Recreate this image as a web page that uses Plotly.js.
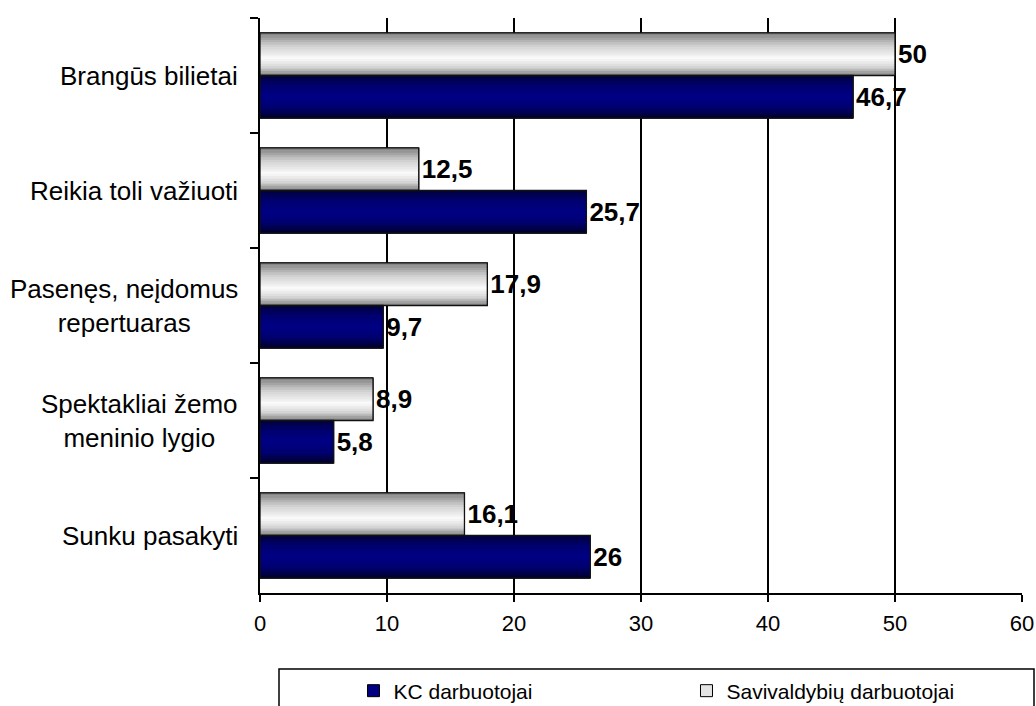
<!DOCTYPE html>
<html>
<head>
<meta charset="utf-8">
<script src="https://cdn.plot.ly/plotly-3.0.1.min.js"></script>
<style>html,body{margin:0;padding:0;background:#fff;}#chart{width:1036px;height:706px;}</style>
</head>
<body>
<div id="chart"></div>
<script>
// ---- data ----
const categories = [
  "Brangūs bilietai",
  "Reikia toli važiuoti",
  "Pasenęs, neįdomus<br>repertuaras",
  "Spektakliai žemo<br>meninio lygio",
  "Sunku pasakyti"
];
const seriesNames = ["KC darbuotojai", "Savivaldybių darbuotojai"];
const kcValues = [46.7, 25.7, 9.7, 5.8, 26];
const savValues = [50, 12.5, 17.9, 8.9, 16.1];
const xTicks = [0, 10, 20, 30, 40, 50, 60];

// ---- styling helpers ----
const FONT = "Liberation Sans, Arial, sans-serif";
const catKeys = categories.map((c, i) => "c" + i);
const BW = 0.37;           // bar thickness (category units)
const N = 18;              // gradient strips per bar

function hexToRgb(h){h=h.replace('#','');return [parseInt(h.substr(0,2),16),parseInt(h.substr(2,2),16),parseInt(h.substr(4,2),16)];}
function gradColor(stops, t){
  for (let i = 0; i < stops.length - 1; i++) {
    const a = stops[i], b = stops[i+1];
    if (t >= a[0] && t <= b[0]) {
      const f = (t - a[0]) / (b[0] - a[0]);
      const ca = hexToRgb(a[1]), cb = hexToRgb(b[1]);
      const c = ca.map((v, j) => Math.round(v + (cb[j] - v) * f));
      return 'rgb(' + c.join(',') + ')';
    }
  }
  return stops[stops.length-1][1];
}
const navyStops = [[0,'#00003c'],[0.25,'#000070'],[0.5,'#000085'],[0.75,'#000070'],[1,'#000028']];
const whiteStops = [[0,'#7e7e7e'],[0.3,'#cfcfcf'],[0.6,'#fbfbfb'],[0.8,'#d6d6d6'],[1,'#7c7c7c']];

const fmt = v => String(v).replace('.', ',');

const series = [
  {name: seriesNames[0], values: kcValues, offset: 0, solid: '#000080', stops: navyStops},
  {name: seriesNames[1], values: savValues, offset: -BW, solid: '#e4e4e4', stops: whiteStops}
];

const traces = [];
// main (legend) traces
series.forEach(s => {
  traces.push({
    type: 'bar', orientation: 'h', name: s.name,
    y: catKeys, x: s.values, offset: s.offset, width: BW,
    marker: {color: s.solid, line: {color: '#000', width: 1}},
    hoverinfo: 'x+name'
  });
});
// gradient strips
series.forEach(s => {
  for (let k = 0; k < N; k++) {
    const t = (k + 0.5) / N;
    traces.push({
      type: 'bar', orientation: 'h', showlegend: false, hoverinfo: 'skip',
      y: catKeys, x: s.values, offset: s.offset + k * BW / N, width: BW / N + 0.003,
      marker: {color: gradColor(s.stops, t), line: {width: 0}}
    });
  }
});
// outlines + value labels
series.forEach(s => {
  traces.push({
    type: 'bar', orientation: 'h', showlegend: false, hoverinfo: 'skip',
    y: catKeys, x: s.values, offset: s.offset, width: BW,
    marker: {color: 'rgba(0,0,0,0)', line: {color: '#111', width: 1.3}},
    text: s.values.map(fmt), textposition: 'outside', cliponaxis: false,
    textfont: {family: FONT, size: 26, color: '#000', weight: 'bold'}
  });
});

const annotations = categories.map((c, i) => ({
  xref: 'paper', yref: 'y', x: 0, y: i, xanchor: 'right', yanchor: 'middle',
  xshift: -20, text: c, align: 'center', showarrow: false,
  font: {family: FONT, size: 26, color: '#000'}
}));

const layout = {
  width: 1036, height: 706,
  margin: {l: 260, r: 14, t: 18, b: 113, autoexpand: false},
  paper_bgcolor: '#fff', plot_bgcolor: '#fff',
  barmode: 'overlay',
  font: {family: FONT, color: '#000'},
  xaxis: {
    range: [0, 60], tickvals: xTicks, ticktext: xTicks.map(String),
    showgrid: true, gridcolor: '#000', gridwidth: 2,
    zeroline: false, showline: true, linecolor: '#000', linewidth: 2,
    ticks: 'outside', ticklen: 7, tickwidth: 2, tickcolor: '#000',
    tickfont: {family: FONT, size: 22, color: '#000'}, ticklabelstandoff: 3,
    fixedrange: true
  },
  yaxis: {
    type: 'category', categoryorder: 'array', categoryarray: catKeys,
    autorange: 'reversed', showticklabels: false,
    showgrid: false, zeroline: false, showline: true, linecolor: '#000', linewidth: 2,
    ticks: 'outside', tickson: 'boundaries', ticklen: 8, tickwidth: 2, tickcolor: '#000',
    fixedrange: true
  },
  showlegend: true,
  legend: {
    orientation: 'h', x: 0.1227, xanchor: 'left', y: -0.1348, yanchor: 'top',
    bgcolor: 'rgba(0,0,0,0)', borderwidth: 0, entrywidth: 288,
    font: {family: FONT, size: 21, color: '#000'}
  },
  shapes: [{
    type: 'rect', xref: 'paper', yref: 'paper',
    x0: (279 - 260) / 762, x1: (1034 - 260) / 762,
    y0: -0.1322, y1: -0.25,
    line: {color: '#000', width: 1.5}, fillcolor: 'rgba(0,0,0,0)'
  }],
  annotations: annotations
};

Plotly.newPlot('chart', traces, layout, {displayModeBar: false, staticPlot: true});
</script>
</body>
</html>
